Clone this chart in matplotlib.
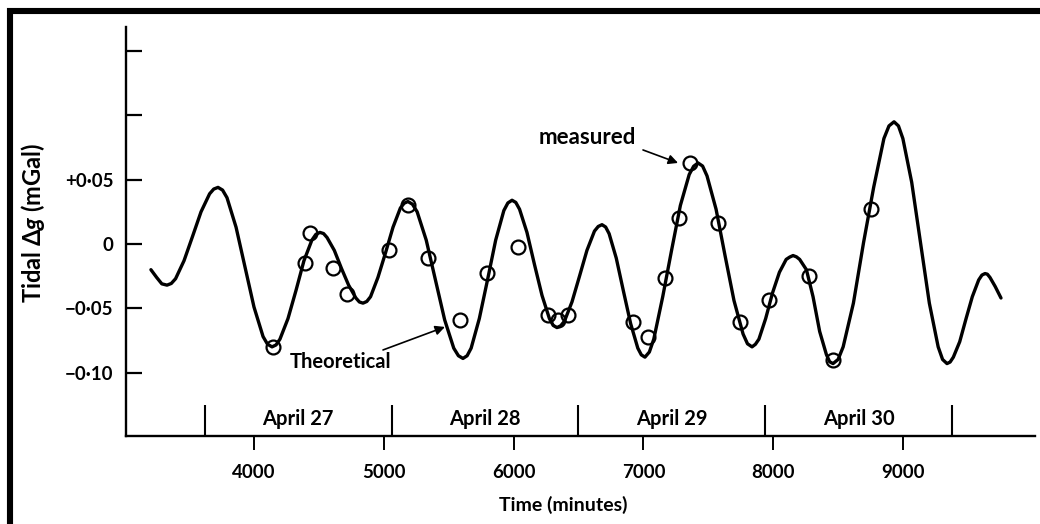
import matplotlib.pyplot as plt
from matplotlib.lines import Line2D

# theoretical tidal gravity curve: time (minutes) vs delta g (mGal)
theory_t = [3206, 3250, 3290, 3330, 3363, 3396, 3461, 3527, 3592, 3658, 3690,
            3723, 3758, 3792, 3862, 3931, 4000, 4070, 4104,
            4139, 4170, 4200, 4262, 4324, 4385, 4446, 4477,
            4508, 4536, 4563, 4619, 4674, 4729, 4785, 4812,
            4840, 4869, 4898, 4955, 5013, 5071, 5128, 5157,
            5186, 5221, 5257, 5327, 5398, 5469, 5539, 5575,
            5610, 5642, 5673, 5736, 5799, 5862, 5925, 5956,
            5988, 6017, 6046, 6103, 6161, 6219, 6276, 6305,
            6334, 6363, 6392, 6450, 6508, 6565, 6623, 6652,
            6681, 6709, 6736, 6791, 6847, 6902, 6957, 6984,
            7012, 7046, 7080, 7149, 7217, 7285, 7353, 7387,
            7421, 7456, 7490, 7560, 7629, 7698, 7768, 7802,
            7837, 7863, 7890, 7942, 7995, 8048, 8100, 8127,
            8153, 8179, 8204, 8256, 8307, 8358, 8410, 8435,
            8461, 8500, 8539, 8618, 8696, 8774, 8853, 8892,
            8931, 8965, 8999, 9067, 9135, 9203, 9271, 9305,
            9339, 9363, 9388, 9437, 9486, 9534, 9583, 9608,
            9632, 9650, 9670, 9710, 9755]
theory_g = [-0.020, -0.026, -0.031, -0.032, -0.0307, -0.027, -0.013, 0.006, 0.025, 0.039, 0.0427,
            0.044, 0.0419, 0.036, 0.013, -0.018, -0.049, -0.072, -0.0779,
            -0.080, -0.0785, -0.074, -0.058, -0.036, -0.013, 0.003, 0.0075,
            0.009, 0.0081, 0.005, -0.005, -0.019, -0.032, -0.042, -0.0451,
            -0.046, -0.0447, -0.041, -0.026, -0.007, 0.013, 0.028, 0.0317,
            0.033, 0.0309, 0.025, 0.003, -0.028, -0.059, -0.081, -0.0869,
            -0.089, -0.0869, -0.081, -0.058, -0.028, 0.003, 0.026, 0.0319,
            0.034, 0.0323, 0.027, 0.009, -0.016, -0.040, -0.058, -0.0633,
            -0.065, -0.0636, -0.060, -0.045, -0.025, -0.005, 0.010, 0.0136,
            0.015, 0.0132, 0.008, -0.011, -0.037, -0.062, -0.081, -0.0862,
            -0.088, -0.084, -0.074, -0.041, -0.005, 0.030, 0.054, 0.0604,
            0.063, 0.0606, 0.053, 0.027, -0.009, -0.044, -0.070, -0.0776,
            -0.080, -0.078, -0.074, -0.058, -0.038, -0.022, -0.012, -0.0102,
            -0.009, -0.0100, -0.012, -0.020, -0.041, -0.068, -0.086, -0.0916,
            -0.093, -0.0898, -0.080, -0.046, 0.001, 0.044, 0.082, 0.0918,
            0.095, 0.0918, 0.082, 0.048, 0.001, -0.046, -0.080, -0.0898,
            -0.093, -0.0918, -0.088, -0.076, -0.058, -0.041, -0.028, -0.0242,
            -0.023, -0.0235, -0.026, -0.033, -0.042]

# gravimeter readings
measured_t = [4146, 4393, 4431, 4606, 4717, 5040, 5186, 5340, 5587, 5795,
              6034, 6265, 6342, 6419, 6920, 7035, 7166, 7275, 7360, 7575,
              7744, 7968, 8276, 8461, 8753]
measured_g = [-0.080, -0.015, 0.0085, -0.019, -0.039, -0.0047, 0.030, -0.011, -0.059, -0.0226,
              -0.0023, -0.055, -0.059, -0.055, -0.061, -0.072, -0.0265, 0.020, 0.063, 0.016,
              -0.0605, -0.0435, -0.0249, -0.090, 0.0272]

day_edges = [3620, 5060, 6500, 7940, 9380]
day_names = ['April 27', 'April 28', 'April 29', 'April 30']

x_ticks = [4000, 5000, 6000, 7000, 8000, 9000]
y_ticks = [-0.10, -0.05, 0.0, 0.05, 0.10, 0.15]
y_ticklabels = ['\u22120\u00b710', '\u22120\u00b705', '0', '+0\u00b705', '', '']

plt.rcParams['font.family'] = ['Lato', 'DejaVu Sans']
plt.rcParams['font.weight'] = 'bold'
plt.rcParams['axes.labelweight'] = 'bold'
plt.rcParams['mathtext.fontset'] = 'custom'
plt.rcParams['mathtext.it'] = 'Lato:italic:bold'
plt.rcParams['mathtext.rm'] = 'Lato:bold'

fig = plt.figure(figsize=(10.4, 5.24), dpi=100)
ax = fig.add_axes([126/1040, 1-436/524, 909/1040, 409/524])

ax.plot(theory_t, theory_g, color='k', lw=2.4, solid_joinstyle='round',
        solid_capstyle='round', zorder=3)
ax.plot(measured_t, measured_g, 'o', ms=10, mfc='none', mec='k', mew=1.6, zorder=4)

ax.set_xlim(3014, 10017)
ax.set_ylim(-0.1493, 0.1687)

for s in ['top', 'right']:
    ax.spines[s].set_visible(False)
for s in ['left', 'bottom']:
    ax.spines[s].set_linewidth(1.7)

ax.set_xticks(x_ticks)
ax.set_xticklabels([str(t) for t in x_ticks])
ax.set_yticks(y_ticks)
ax.set_yticklabels(y_ticklabels)
ax.tick_params(axis='x', direction='out', length=10, width=1.4, pad=10, labelsize=13.5)
ax.tick_params(axis='y', direction='in', length=11.5, width=1.6, pad=9, labelsize=13.5)

# day boundaries and names along the time axis
trans = ax.get_xaxis_transform()
ax.vlines(day_edges, 0, 0.075, transform=trans, color='k', lw=1.5)
for left, right, name in zip(day_edges[:-1], day_edges[1:], day_names):
    ax.text((left + right) / 2, 0.042, name, transform=trans,
            ha='center', va='center', fontsize=14.5)

ax.set_xlabel('Time (minutes)', fontsize=14)
ax.xaxis.set_label_coords(0.481, -0.169)
ax.xaxis.label.set_va('center')
ax.set_ylabel('Tidal \u0394$g$ (mGal)', fontsize=17)
ax.yaxis.set_label_coords(-0.102, 0.52)
ax.yaxis.label.set_va('center')

arrow = dict(arrowstyle='-|>', color='k', lw=1.2, shrinkA=0, shrinkB=0,
             mutation_scale=14)
ax.text(6565, 0.0824, 'measured', ha='center', va='center', fontsize=16)
ax.annotate('', xy=(7267, 0.063), xytext=(6997, 0.0731), arrowprops=arrow)
ax.text(4277, -0.0918, 'Theoretical', ha='left', va='center', fontsize=14.5)
ax.annotate('', xy=(5471, -0.0645), xytext=(4994, -0.0824), arrowprops=arrow)

# heavy frame on the left and top edges
fig.add_artist(Line2D([9.5/1040, 9.5/1040, 1.0], [0.0, 1-11/524, 1-11/524],
                      transform=fig.transFigure, color='k', lw=4.4,
                      solid_joinstyle='miter', solid_capstyle='projecting'))

fig.savefig('out.png', dpi=100)
